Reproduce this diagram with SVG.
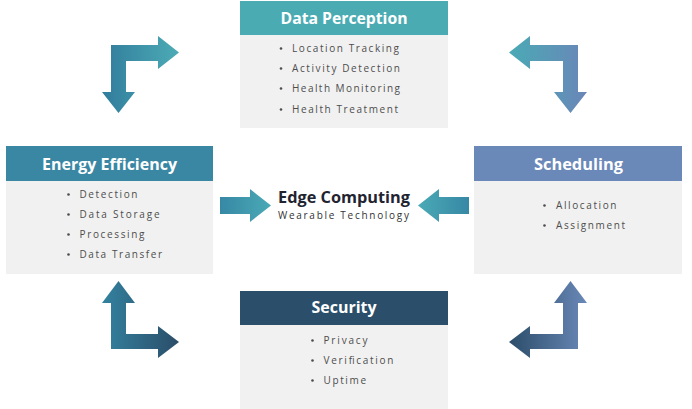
<svg xmlns="http://www.w3.org/2000/svg" width="692" height="409" viewBox="0 0 692 409">
<defs>
<linearGradient id="gTL" x1="0" y1="0" x2="1" y2="0"><stop offset="0" stop-color="#317c9c"/><stop offset="1" stop-color="#4cabb5"/></linearGradient>
<linearGradient id="gTR" x1="0" y1="0" x2="1" y2="0"><stop offset="0" stop-color="#4aaab5"/><stop offset="1" stop-color="#6a86b8"/></linearGradient>
<linearGradient id="gBL" x1="0" y1="0" x2="1" y2="0"><stop offset="0" stop-color="#33829f"/><stop offset="1" stop-color="#2b4d69"/></linearGradient>
<linearGradient id="gBR" x1="0" y1="0" x2="1" y2="0"><stop offset="0" stop-color="#2b4d69"/><stop offset="1" stop-color="#6a88b8"/></linearGradient>
<linearGradient id="gCL" x1="0" y1="0" x2="1" y2="0"><stop offset="0" stop-color="#3788a5"/><stop offset="1" stop-color="#4aaab5"/></linearGradient>
<linearGradient id="gCR" x1="0" y1="0" x2="1" y2="0"><stop offset="0" stop-color="#4aaab5"/><stop offset="1" stop-color="#3788a5"/></linearGradient>
</defs>
<style>
.body{fill:#f1f1f1}
.title{font-family:"Open Sans","Liberation Sans",sans-serif;font-weight:700;font-size:16px;fill:#ffffff;text-anchor:middle}
.item{font-family:"Open Sans","Liberation Sans",sans-serif;font-size:10px;fill:#4d4d4d}
.dot{fill:#4d4d4d}
</style>
<rect width="692" height="409" fill="#ffffff"/>

<g id="connectors">
<path fill="url(#gTL)" d="M179,52.5 L158,36 L158,45 L111,45 L111,92 L102,92 L118.5,113 L135,92 L126,92 L126,61 L158,61 L158,69 Z"/>
<path fill="url(#gTR)" d="M509,52.5 L530,36 L530,45 L578,45 L578,92 L587,92 L570.5,113 L554,92 L563,92 L563,61 L530,61 L530,69 Z"/>
<path fill="url(#gBL)" d="M179,342 L158,326 L158,334 L126,334 L126,303 L135,303 L118.5,281 L102,303 L111,303 L111,349 L158,349 L158,358 Z"/>
<path fill="url(#gBR)" d="M509,342 L530,326 L530,334 L563,334 L563,303 L554,303 L570.5,281 L587,303 L578,303 L578,349 L530,349 L530,358 Z"/>
<path fill="url(#gCL)" d="M220,197 L250,197 L250,189 L271,205.5 L250,222 L250,214 L220,214 Z"/>
<path fill="url(#gCR)" d="M469,197 L439,197 L439,189 L418,205.5 L439,222 L439,214 L469,214 Z"/>
</g>

<g id="data-perception">
<rect x="240" y="1" width="208" height="34" fill="#4aabb3"/>
<rect class="body" x="240" y="35" width="208" height="93"/>
<text class="title" x="344" y="24" textLength="127" lengthAdjust="spacingAndGlyphs">Data Perception</text>
<circle class="dot" cx="281" cy="48.5" r="1.3"/>
<circle class="dot" cx="281" cy="68.5" r="1.3"/>
<circle class="dot" cx="281" cy="88.5" r="1.3"/>
<circle class="dot" cx="281" cy="109.5" r="1.3"/>
<text class="item" x="292" y="52" textLength="107">Location Tracking</text>
<text class="item" x="292" y="72" textLength="108">Activity Detection</text>
<text class="item" x="292" y="92" textLength="108">Health Monitoring</text>
<text class="item" x="292" y="113" textLength="106">Health Treatment</text>
</g>

<g id="energy-efficiency">
<rect x="6" y="146" width="207" height="35" fill="#3a87a3"/>
<rect class="body" x="6" y="181" width="207" height="93"/>
<text class="title" x="109.5" y="169.5" textLength="135" lengthAdjust="spacingAndGlyphs">Energy Efficiency</text>
<circle class="dot" cx="68.5" cy="194.5" r="1.3"/>
<circle class="dot" cx="68.5" cy="214.5" r="1.3"/>
<circle class="dot" cx="68.5" cy="234.5" r="1.3"/>
<circle class="dot" cx="68.5" cy="254.5" r="1.3"/>
<text class="item" x="79.5" y="198" textLength="58">Detection</text>
<text class="item" x="79.5" y="218" textLength="80">Data Storage</text>
<text class="item" x="79.5" y="238" textLength="65">Processing</text>
<text class="item" x="79.5" y="258" textLength="82.5">Data Transfer</text>
</g>

<g id="scheduling">
<rect x="474" y="146" width="208" height="35" fill="#6a88b8"/>
<rect class="body" x="474" y="181" width="208" height="93"/>
<text class="title" x="578.5" y="170" textLength="89" lengthAdjust="spacingAndGlyphs">Scheduling</text>
<circle class="dot" cx="544.5" cy="205.5" r="1.3"/>
<circle class="dot" cx="544.5" cy="225.5" r="1.3"/>
<text class="item" x="556" y="209" textLength="60.5">Allocation</text>
<text class="item" x="556" y="229" textLength="69">Assignment</text>
</g>

<g id="security">
<rect x="240" y="291" width="208" height="34" fill="#2b4f6b"/>
<rect class="body" x="240" y="325" width="208" height="84"/>
<text class="title" x="344" y="313" textLength="65" lengthAdjust="spacingAndGlyphs">Security</text>
<circle class="dot" cx="312.5" cy="340.5" r="1.3"/>
<circle class="dot" cx="312.5" cy="360.5" r="1.3"/>
<circle class="dot" cx="312.5" cy="380.5" r="1.3"/>
<text class="item" x="323.5" y="344" textLength="44">Privacy</text>
<text class="item" x="323.5" y="364" textLength="70">Verification</text>
<text class="item" x="323.5" y="384" textLength="42.5">Uptime</text>
</g>

<g id="edge-computing">
<text x="344" y="202.5" text-anchor="middle" font-family="'Open Sans','Liberation Sans',sans-serif" font-weight="700" font-size="15.5" fill="#1f2430" textLength="132" lengthAdjust="spacingAndGlyphs">Edge Computing</text>
<text x="343.5" y="218.5" text-anchor="middle" font-family="'Open Sans','Liberation Sans',sans-serif" font-size="10" fill="#333333" textLength="131">Wearable Technology</text>
</g>
</svg>
